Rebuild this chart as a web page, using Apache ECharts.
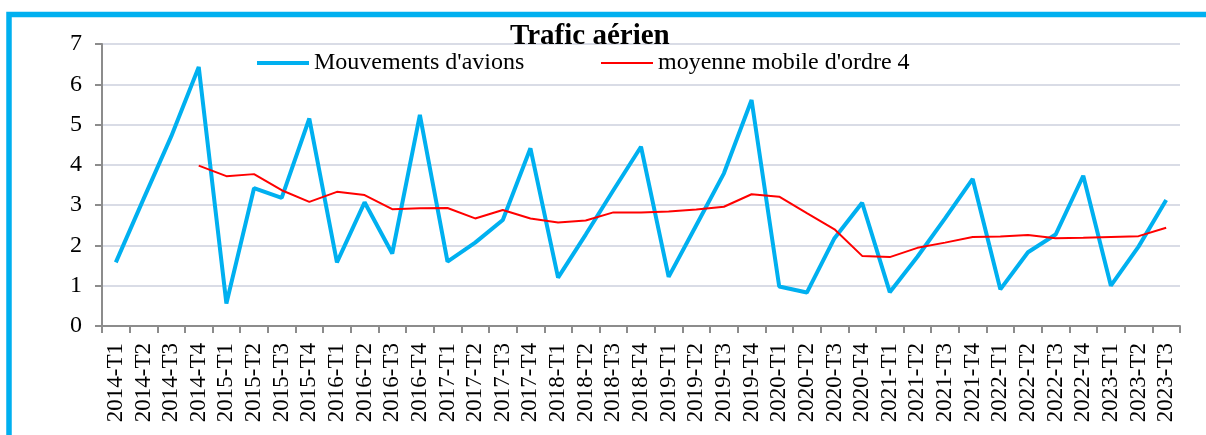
<!DOCTYPE html>
<html>
<head>
<meta charset="utf-8">
<script src="https://cdn.jsdelivr.net/npm/echarts@6/dist/echarts.min.js"></script>
<style>html,body{margin:0;padding:0;background:#fff;}#c{width:1206px;height:435px;}</style>
</head>
<body>
<div id="c"></div>
<script>
const categories = ['2014-T1','2014-T2','2014-T3','2014-T4','2015-T1','2015-T2','2015-T3','2015-T4','2016-T1','2016-T2','2016-T3','2016-T4','2017-T1','2017-T2','2017-T3','2017-T4','2018-T1','2018-T2','2018-T3','2018-T4','2019-T1','2019-T2','2019-T3','2019-T4','2020-T1','2020-T2','2020-T3','2020-T4','2021-T1','2021-T2','2021-T3','2021-T4','2022-T1','2022-T2','2022-T3','2022-T4','2023-T1','2023-T2','2023-T3'];
const mouvements = [1.58,3.15,4.70,6.43,0.56,3.42,3.18,5.15,1.58,3.07,1.80,5.24,1.60,2.07,2.63,4.41,1.20,2.27,3.37,4.45,1.22,2.50,3.79,5.61,0.98,0.83,2.18,3.06,0.84,1.72,2.67,3.65,0.91,1.83,2.27,3.73,1.00,1.97,3.13];
const moyenneMobile = [null,null,null,3.98,3.72,3.77,3.37,3.08,3.33,3.25,2.90,2.92,2.93,2.67,2.88,2.67,2.57,2.62,2.82,2.82,2.84,2.89,2.96,3.27,3.21,2.80,2.40,1.74,1.71,1.94,2.07,2.21,2.22,2.26,2.18,2.19,2.21,2.23,2.44];
const yTicks = [0,1,2,3,4,5,6,7];
const seriesNames = ["Mouvements d'avions", "moyenne mobile d'ordre 4"];

const FONT = '"Liberation Serif","Times New Roman",serif';
const chart = echarts.init(document.getElementById('c'), null, {renderer:'canvas'});
chart.setOption({
  animation: false,
  backgroundColor: '#fff',
  title: {
    text: 'Trafic aérien',
    left: 510, top: 22,
    padding: 0,
    textStyle: {fontFamily: FONT, fontSize: 29, fontWeight: 'bold', color: '#000'}
  },
  legend: [
    {
      left: 257, top: 51, padding: 0,
      itemWidth: 52, itemHeight: 4, icon: 'rect',
      textStyle: {fontFamily: FONT, fontSize: 24, color: '#000'},
      data: [seriesNames[0]]
    },
    {
      left: 601, top: 51, padding: 0,
      itemWidth: 52, itemHeight: 2, icon: 'rect',
      textStyle: {fontFamily: FONT, fontSize: 24, color: '#000'},
      data: [seriesNames[1]]
    }
  ],
  grid: {left: 102, right: 26, top: 44, bottom: 109, containLabel: false},
  xAxis: {
    type: 'category',
    data: categories,
    boundaryGap: true,
    axisLine: {lineStyle: {color: '#8c8c8c', width: 2}},
    axisTick: {show: true, length: 7, lineStyle: {color: '#8c8c8c', width: 2}},
    axisLabel: {interval: 0, rotate: 90, margin: 17, fontFamily: FONT, fontSize: 23, color: '#000'},
    splitLine: {show: false}
  },
  yAxis: {
    type: 'value',
    min: yTicks[0], max: yTicks[yTicks.length-1], interval: 1,
    axisLine: {show: true, lineStyle: {color: '#8c8c8c', width: 2}},
    axisTick: {show: true, length: 7, lineStyle: {color: '#8c8c8c', width: 2}},
    axisLabel: {margin: 20, fontFamily: FONT, fontSize: 24, color: '#000'},
    splitLine: {lineStyle: {color: '#d9dce6', width: 2}}
  },
  series: [
    {name: seriesNames[0], type: 'line', data: mouvements, symbol: 'none',
     lineStyle: {color: '#00b0f0', width: 4}, itemStyle: {color: '#00b0f0'}},
    {name: seriesNames[1], type: 'line', data: moyenneMobile, symbol: 'none',
     lineStyle: {color: '#ff0000', width: 2}, itemStyle: {color: '#ff0000'}}
  ],
  graphic: [{
    type: 'rect', silent: true, z: 100,
    shape: {x: 9, y: 14.5, width: 1400, height: 700},
    style: {fill: 'none', stroke: '#00b0f0', lineWidth: 5.5}
  }]
});
</script>
</body>
</html>
